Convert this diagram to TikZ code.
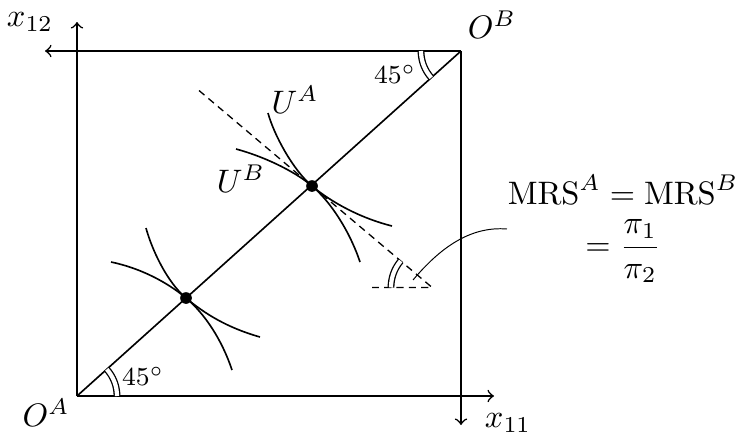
\documentclass[tikz,border=0pt]{standalone}
\usepackage{amsmath}
\begin{document}
\begin{tikzpicture}[x=0.3077pt,y=-0.3077pt,line width=0.5pt,>=to,
  dot/.style={circle,fill,inner sep=0pt,minimum size=3.6pt},
  lbl/.style={inner sep=0pt},
  ang/.style={double,double distance=1.3pt,line width=0.4pt},
  dsh/.style={dash pattern=on 2.2pt off 1.6pt,line width=0.4pt},
  conn/.style={line width=0.3pt}]
\useasboundingbox (0,0) rectangle (735,437);
% corners and axis ends
\coordinate (OA) at (77,396);
\coordinate (OB) at (461,51);
\coordinate (xA) at (494,396);
\coordinate (yA) at (77,22);
\coordinate (xB) at (45,51);
\coordinate (yB) at (461,425);
% axes / box
\draw[->] (OA) -- (xA);
\draw[->] (OA) -- (yA);
\draw[->] (OB) -- (xB);
\draw[->] (OB) -- (yB);
\draw (OA) -- (OB);
% labels
\node[lbl] (lx12) at (30,22) {$x_{12}$};
\node[lbl] (lOB) at (492,25) {$O^B$};
\node[lbl] (lOA) at (46,413) {$O^A$};
\node[lbl] (lx11) at (508,423) {$x_{11}$};
\node[lbl] (a1) at (395,74) {\footnotesize $45^\circ$};
\node[lbl] (a2) at (143,376) {\footnotesize $45^\circ$};
% angle arcs at corners
\draw[ang] (OB) ++(180:40) arc[start angle=180,end angle=138.1,radius=40];
\draw[ang] (OA) ++(0:40) arc[start angle=0,end angle=-41.9,radius=40];
% tangency points
\node[dot] (P) at (312,186) {};
\node[dot] (Q) at (186,298) {};
% dashed tangent line
\coordinate (DS) at (199,90.5);
\coordinate (DE) at (432,287.4);
\coordinate (DH) at (372,287.4);
\draw[dsh] (DS) -- (DE) -- (DH);
\draw[ang] (DE) ++(180:41) arc[start angle=180,end angle=220.2,radius=41];
% indifference curves at P
\draw (268,113) .. controls (274,135) and (293,170) .. (P.center)
      .. controls (331,202) and (360,218) .. (392,226);
\draw (236,149) .. controls (262,156) and (293,170) .. (P.center)
      .. controls (331,202) and (350,232) .. (360,262);
% indifference curves at Q
\draw (146,228) .. controls (152,250) and (167,282) .. (Q.center)
      .. controls (205,314) and (228,328) .. (260,337);
\draw (111,262) .. controls (140,268) and (167,282) .. (Q.center)
      .. controls (205,314) and (222,340) .. (232,370);
\node[lbl] (UA) at (295,100) {$U^A$};
\node[lbl] (UB) at (241,179) {$U^B$};
% MRS text and connector
\node[lbl] (mrs) at (623,229) {$\begin{array}{@{}c@{}}\mathrm{MRS}^A=\mathrm{MRS}^B\\[1pt] =\dfrac{\pi_1}{\pi_2}\end{array}$};
\coordinate (cend) at (413,280);
\draw[conn] (mrs.west) .. controls (470,226) and (440,248) .. (cend);
\end{tikzpicture}
\end{document}
